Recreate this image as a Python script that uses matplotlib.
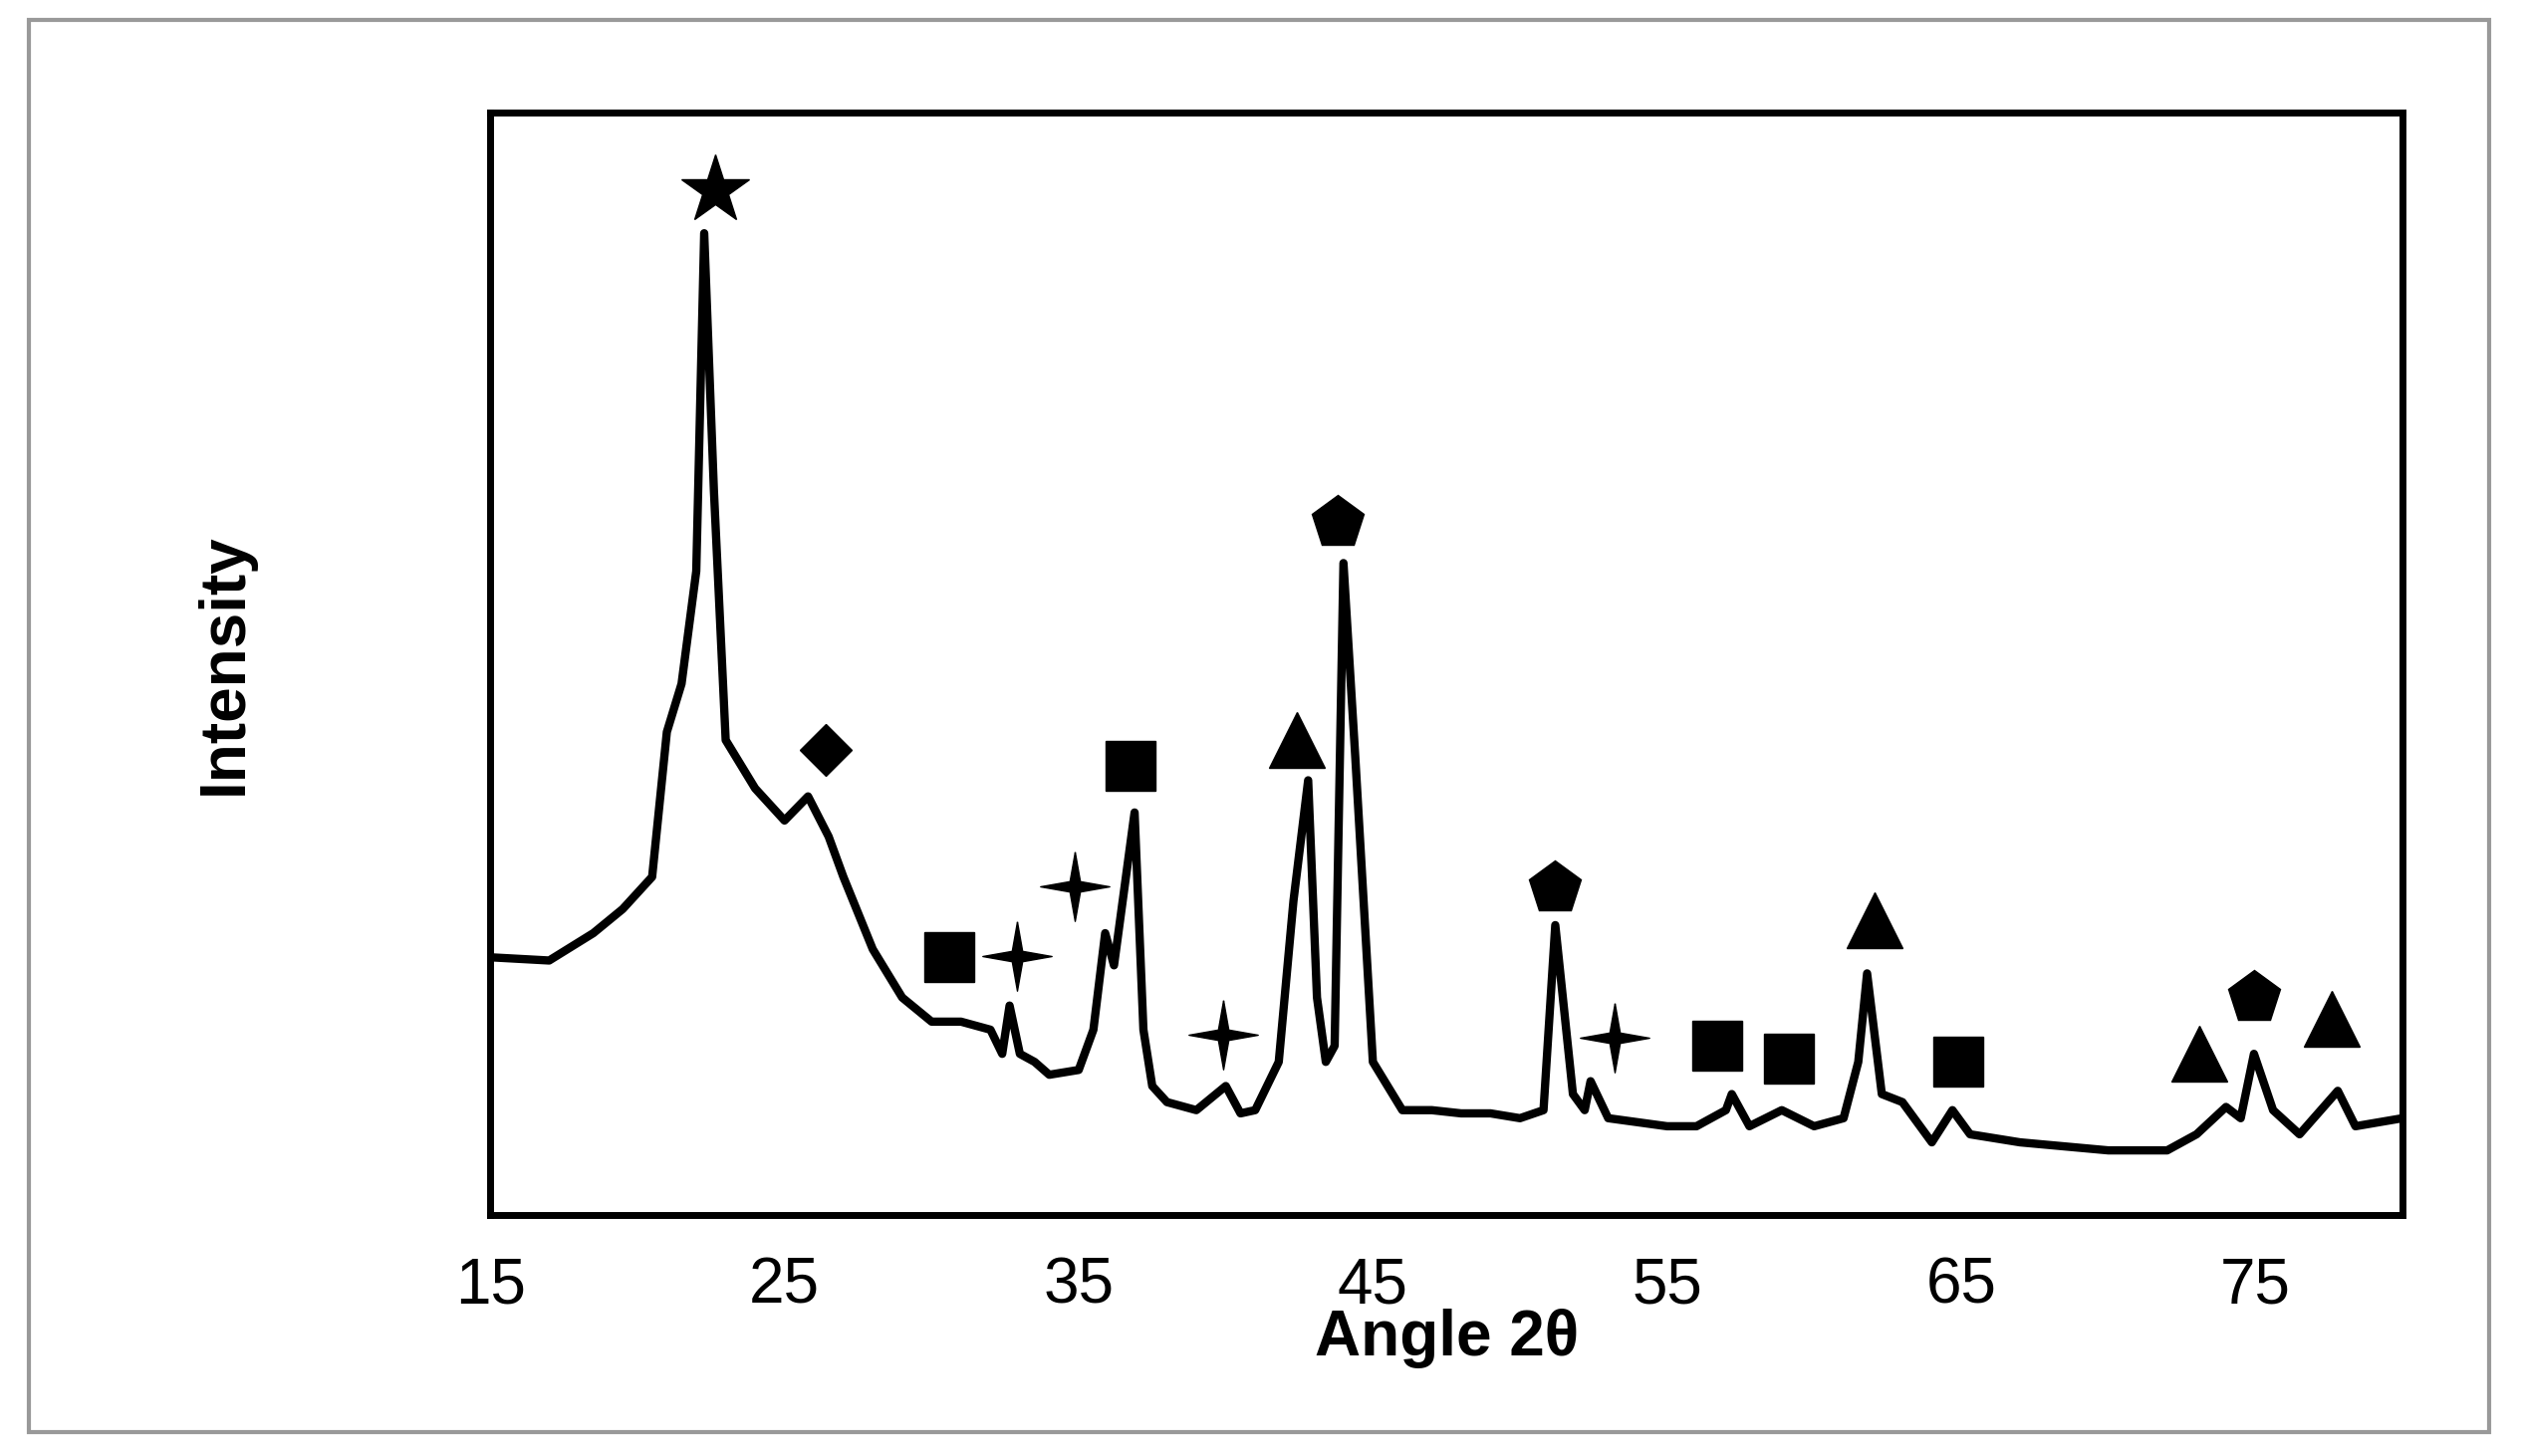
import matplotlib
matplotlib.use("Agg")
import matplotlib.pyplot as plt
from matplotlib.patches import Rectangle

plt.rcParams['font.family'] = ['Liberation Sans', 'DejaVu Sans']

# XRD trace (angle, intensity in arbitrary units)
angle = [15, 17, 18.5, 19.5, 20.5, 21.0, 21.5, 22.0, 22.27, 22.6, 23, 24, 25, 25.8, 26.5, 27, 28, 29, 30,
         31, 32, 32.4, 32.65, 33, 33.5, 34, 35, 35.5, 35.9, 36.2, 36.9, 37.2, 37.5, 38, 39, 40, 40.5,
         41, 41.8, 42.3, 42.8, 43.1, 43.4, 43.7, 44.0, 44.4, 45, 46, 47, 48, 49, 50, 50.8, 51.2,
         51.8, 52.2, 52.4, 53, 55, 56, 57, 57.2, 57.8, 58.9, 60, 61, 61.5, 61.8, 62.3, 63, 64, 64.7,
         65.3, 67, 70, 72, 73, 74, 74.5, 74.95, 75.6, 76.5, 77.8, 78.4, 80]
intensity = [160, 158, 175, 190, 210, 300, 330, 400, 610, 450, 295, 265, 245, 260, 235, 210, 165, 135, 120,
             120, 115, 100, 130, 100, 95, 87, 90, 115, 175, 155, 250, 115, 80, 70, 65, 80, 63,
             65, 95, 195, 270, 135, 95, 105, 405, 285, 95, 65, 65, 63, 63, 60, 65, 180,
             75, 65, 83, 60, 55, 55, 65, 75, 55, 65, 55, 60, 95, 150, 75, 70, 45, 65,
             50, 45, 40, 40, 50, 67, 60, 100, 65, 50, 77, 55, 60]

# phase markers: (angle, height)
star_pk = ([22.65], [637])
diamond_pk = ([26.4], [289])
square_pk = ([30.6, 36.75, 56.7, 59.15, 64.9], [160, 279, 105, 97, 95])
cross_pk = ([32.9, 34.85, 39.9, 53.2], [161, 204, 112, 110])
tri_pk = ([42.4, 62.05, 73.1, 77.6], [295, 183, 100, 122])
pent_pk = ([43.8, 51.2, 74.95], [430, 203, 135])

fig = plt.figure(figsize=(25.31, 14.62), dpi=100)
fig.patches.append(Rectangle((0.0115, 0.0166), 0.976, 0.97, transform=fig.transFigure,
                             fill=False, edgecolor='#999999', linewidth=3))
ax = fig.add_axes([0.1945, 0.1657, 0.7585, 0.757])

ax.plot(angle, intensity, color='black', linewidth=6)

four_star = [(0, 1), (0.15, 0.15), (1, 0), (0.15, -0.15), (0, -1), (-0.15, -0.15), (-1, 0), (-0.15, 0.15), (0, 1)]
ms = 40
ax.plot(*star_pk, linestyle='none', marker='*', markersize=ms * 1.3, color='black')
ax.plot(*diamond_pk, linestyle='none', marker='D', markersize=ms * 0.65, color='black')
ax.plot(*square_pk, linestyle='none', marker='s', markersize=ms * 0.9, color='black')
ax.plot(*cross_pk, linestyle='none', marker=four_star, markersize=ms * 1.25, color='black')
ax.plot(*tri_pk, linestyle='none', marker='^', markersize=ms, color='black')
ax.plot(*pent_pk, linestyle='none', marker='p', markersize=ms, color='black')

ax.set_xlim(15, 80)
ax.set_ylim(0, 685)
ax.set_xticks([15, 25, 35, 45, 55, 65, 75])
ax.set_yticks([])
ax.tick_params(axis='x', length=0, labelsize=46, pad=30)
for s in ax.spines.values():
    s.set_linewidth(5)
ax.set_xlabel('Angle 2θ', fontsize=46, fontweight='bold', labelpad=-5)
ax.set_ylabel('Intensity', fontsize=46, fontweight='bold', labelpad=170)

fig.savefig('out.png', dpi=100)
